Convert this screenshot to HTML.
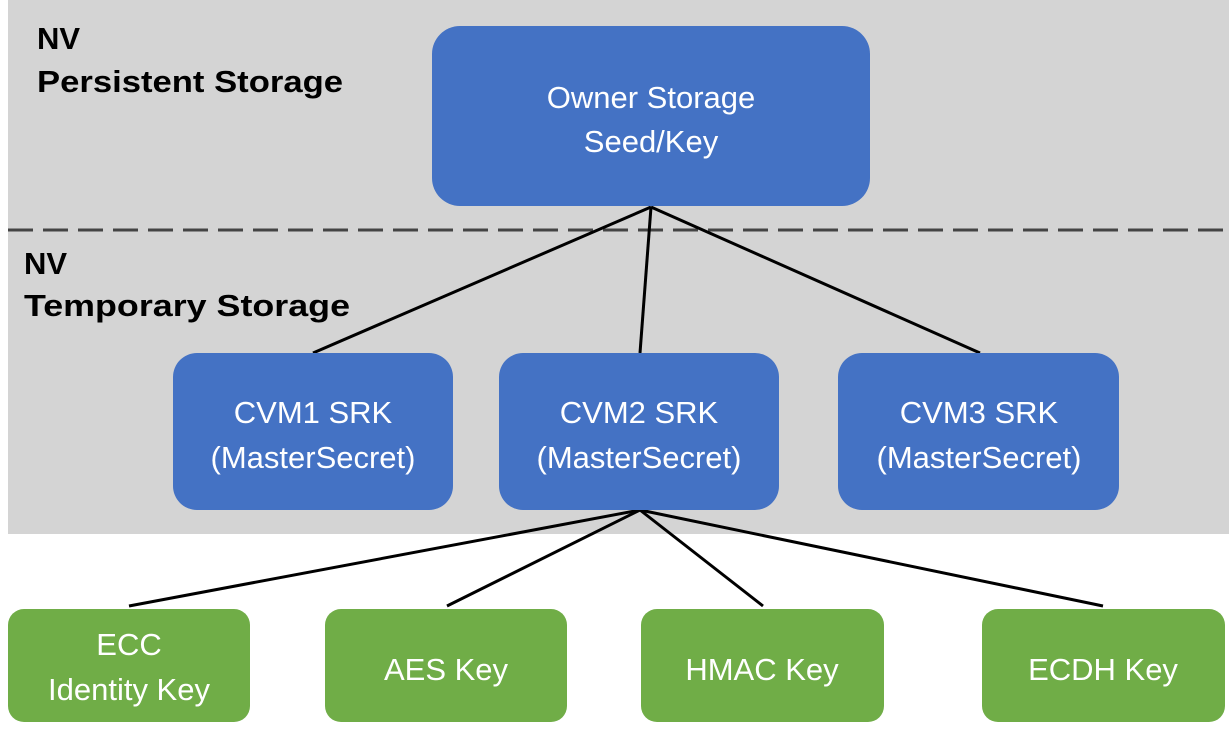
<!DOCTYPE html>
<html><head><meta charset="utf-8"><style>
html,body{margin:0;padding:0;background:#fff;}
svg{display:block;}
.lbl{font-family:"Liberation Sans",sans-serif;font-weight:bold;font-size:31px;fill:#000;}
.bt{font-family:"Liberation Sans",sans-serif;font-size:31px;fill:#fff;text-anchor:middle;}
</style></head><body>
<svg width="1229" height="733" viewBox="0 0 1229 733" xmlns="http://www.w3.org/2000/svg">
<rect x="8" y="0" width="1221" height="534" fill="#d4d4d4"/>
<line x1="8" y1="230" x2="1229" y2="230" stroke="#444" stroke-width="3" stroke-dasharray="25,10"/>
<text class="lbl" x="37" y="49">NV</text>
<text class="lbl" x="37" y="92" textLength="306" lengthAdjust="spacingAndGlyphs">Persistent Storage</text>
<text class="lbl" x="24" y="274">NV</text>
<text class="lbl" x="24" y="316" textLength="326" lengthAdjust="spacingAndGlyphs">Temporary Storage</text>
<g stroke="#000" stroke-width="3">
<line x1="651" y1="207" x2="313" y2="353"/>
<line x1="651" y1="207" x2="640" y2="353"/>
<line x1="651" y1="207" x2="980" y2="353"/>
<line x1="640" y1="510" x2="129" y2="606"/>
<line x1="640" y1="510" x2="447" y2="606"/>
<line x1="640" y1="510" x2="763" y2="606"/>
<line x1="640" y1="510" x2="1103" y2="606"/>
</g>
<g fill="#4472c4">
<rect x="432" y="26" width="438" height="180" rx="28"/>
<rect x="173" y="353" width="280" height="157" rx="24"/>
<rect x="499" y="353" width="280" height="157" rx="24"/>
<rect x="838" y="353" width="281" height="157" rx="24"/>
</g>
<g fill="#70ad47">
<rect x="8" y="609" width="242" height="113" rx="16"/>
<rect x="325" y="609" width="242" height="113" rx="16"/>
<rect x="641" y="609" width="243" height="113" rx="16"/>
<rect x="982" y="609" width="243" height="113" rx="16"/>
</g>
<text class="bt" x="651" y="108">Owner Storage</text>
<text class="bt" x="651" y="152">Seed/Key</text>
<text class="bt" x="313" y="423">CVM1 SRK</text>
<text class="bt" x="313" y="468">(MasterSecret)</text>
<text class="bt" x="639" y="423">CVM2 SRK</text>
<text class="bt" x="639" y="468">(MasterSecret)</text>
<text class="bt" x="979" y="423">CVM3 SRK</text>
<text class="bt" x="979" y="468">(MasterSecret)</text>
<text class="bt" x="129" y="655">ECC</text>
<text class="bt" x="129" y="700">Identity Key</text>
<text class="bt" x="446" y="680">AES Key</text>
<text class="bt" x="762" y="680">HMAC Key</text>
<text class="bt" x="1103" y="680">ECDH Key</text>
</svg>
</body></html>
